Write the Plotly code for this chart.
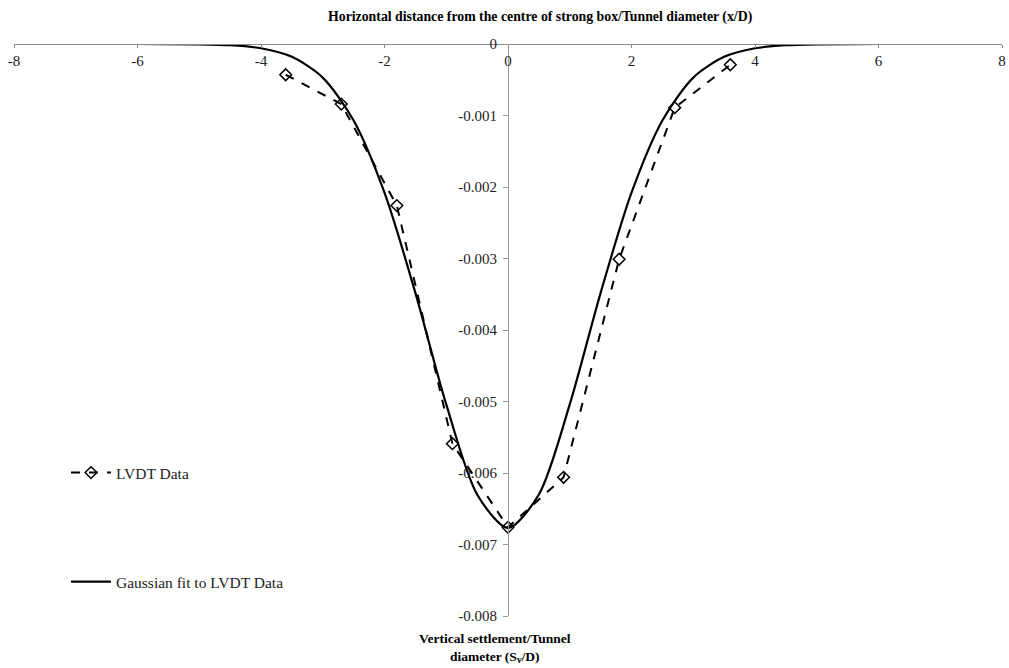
import plotly.graph_objects as go

# LVDT measured data (x/D, Sv/D)
lvdt_x = [-3.6, -2.7, -1.8, -0.9, 0.0, 0.9, 1.8, 2.7, 3.6]
lvdt_y = [-0.00043, -0.00084, -0.00226, -0.00559, -0.00676, -0.00606, -0.00301, -0.00089, -0.00029]

# Gaussian fit curve
fit_x = [-8, -6, -5, -4.5, -4, -3.5, -3, -2.5, -2, -1.5, -1, -0.5, 0,
         0.5, 1, 1.5, 2, 2.5, 3, 3.5, 4, 4.5, 5, 6, 8]
fit_y = [0, 0, -0.000004, -0.000017, -0.00006, -0.00018, -0.00047, -0.00107, -0.00208,
         -0.00348, -0.00504, -0.0063, -0.00677, -0.0063, -0.00504, -0.00348, -0.00208,
         -0.00107, -0.00047, -0.00018, -0.00006, -0.000017, -0.000004, 0, 0]

x_ticks = [-8, -6, -4, -2, 0, 2, 4, 6, 8]
x_ticktext = ["-8", "-6", "-4", "-2", "0", "2", "4", "6", "8"]
y_ticks = [0, -0.001, -0.002, -0.003, -0.004, -0.005, -0.006, -0.007, -0.008]
y_ticktext = ["0", "-0.001", "-0.002", "-0.003", "-0.004", "-0.005", "-0.006", "-0.007", "-0.008"]

FONT = "Liberation Serif"
W, H = 1009, 668
PX0, PY0, PX1, PY1 = 14, 44, 1002, 616  # plot area in page pixels
L, T = PX0, PY0
R, B = W - PX1, H - PY1
PW, PH = PX1 - PX0, PY1 - PY0


def px(x):
    return (x - PX0) / PW


def py(y):
    return 1 - (y - PY0) / PH


fig = go.Figure()
fig.add_trace(go.Scatter(
    x=lvdt_x, y=lvdt_y, mode="lines+markers", name="LVDT Data",
    legendgroup="a",
    line=dict(color="black", width=2, dash="dash"),
    marker=dict(symbol="diamond-open", size=9, color="black", line=dict(width=1.5)),
))
fig.add_trace(go.Scatter(
    x=fit_x, y=fit_y, mode="lines", name="Gaussian fit to LVDT Data",
    legendgroup="b",
    line=dict(color="black", width=2.2, shape="spline", smoothing=0.8),
))

fig.update_layout(
    width=W, height=H,
    paper_bgcolor="white", plot_bgcolor="white",
    margin=dict(l=L, r=R, t=T, b=B, autoexpand=False),
    font=dict(family=FONT, size=15, color="#222"),
    showlegend=True,
    legend=dict(x=px(66), y=py(456), xanchor="left", yanchor="top",
                traceorder="grouped", tracegroupgap=86,
                font=dict(family=FONT, size=15.5, color="#222"),
                bgcolor="rgba(0,0,0,0)", itemwidth=40),
    xaxis=dict(range=[-8, 8], anchor="free", position=1, side="bottom",
               tickvals=x_ticks, ticktext=x_ticktext, automargin=False,
               ticklabeloverflow="allow",
               showline=True, linecolor="#888", linewidth=1, showgrid=False, zeroline=False,
               ticks="outside", ticklen=3, tickcolor="#888",
               tickfont=dict(family=FONT, size=15, color="#222")),
    yaxis=dict(range=[-0.008, 0], anchor="free", position=0.5, tickvals=y_ticks, ticktext=y_ticktext,
               automargin=False, ticklabeloverflow="allow",
               showline=True, linecolor="#999", linewidth=1, showgrid=False, zeroline=False,
               ticks="outside", ticklen=5, tickcolor="#999", ticklabelstandoff=3,
               tickfont=dict(family=FONT, size=15, color="#222")),
)

fig.add_annotation(
    text="<b>Horizontal distance from the centre of strong box/Tunnel diameter (x/D)</b>",
    xref="paper", yref="paper", x=px(540), y=py(17),
    xanchor="center", yanchor="middle", showarrow=False,
    font=dict(family=FONT, size=13.8, color="black"),
)
fig.add_annotation(
    text="<b>Vertical settlement/Tunnel<br>diameter (S<sub>v</sub>/D)</b>",
    xref="paper", yref="paper", x=px(495), y=py(629),
    xanchor="center", yanchor="top", showarrow=False, align="center",
    font=dict(family=FONT, size=13.5, color="black"),
)

fig.write_html(
    "out.html",
    config={"displayModeBar": False},
    post_script="document.body.style.margin='0';document.body.style.overflow='hidden';",
)
